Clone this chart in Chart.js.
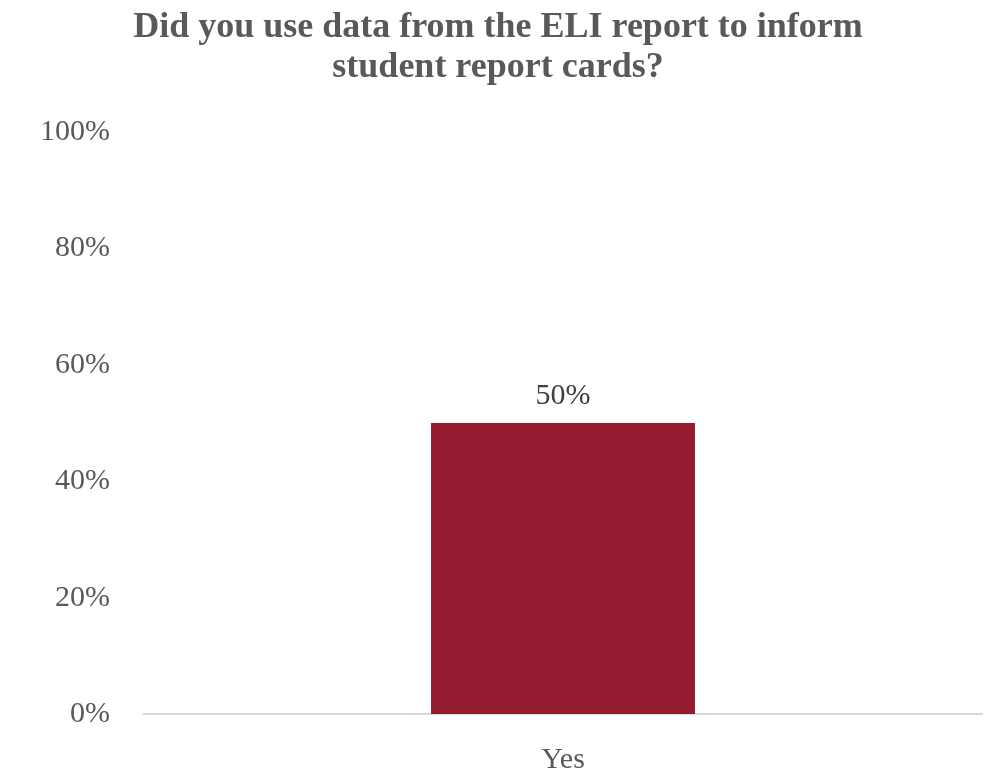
<!DOCTYPE html>
<html>
<head>
<meta charset="utf-8">
<script src="https://cdn.jsdelivr.net/npm/chart.js@4"></script>
<style>
  body { margin: 0; background: #fff; }
  #wrap { width: 987px; height: 773px; position: relative; }
</style>
</head>
<body>
<div id="wrap"><canvas id="chart"></canvas></div>
<script>
var categories = ["Yes"];
var values = [0.5];
var titleLines = ["Did you use data from the ELI report to inform", "student report cards?"];

var greyText = "#595959";
var serif = "'Liberation Serif', 'Times New Roman', serif";

// draw the value above each bar
var barLabels = {
  id: "barLabels",
  afterDatasetsDraw: function (chart) {
    var ctx = chart.ctx;
    var meta = chart.getDatasetMeta(0);
    ctx.save();
    ctx.font = "30px " + serif;
    ctx.fillStyle = "#404040";
    ctx.textAlign = "center";
    ctx.textBaseline = "bottom";
    meta.data.forEach(function (bar, i) {
      ctx.fillText(Math.round(values[i] * 100) + "%", bar.x, bar.y - 12);
    });
    ctx.restore();
  }
};

new Chart(document.getElementById("chart"), {
  type: "bar",
  data: {
    labels: categories,
    datasets: [{
      data: values,
      backgroundColor: "#951b30",
      barPercentage: 0.63,
      categoryPercentage: 0.5
    }]
  },
  options: {
    responsive: true,
    maintainAspectRatio: false,
    animation: false,
    layout: { padding: { left: 14, right: 5, top: 8, bottom: -25 } },
    plugins: {
      legend: { display: false },
      tooltip: { enabled: false },
      title: {
        display: true,
        text: titleLines,
        color: greyText,
        font: { family: serif, size: 36, weight: "bold", lineHeight: 1.1 },
        padding: { top: 0, bottom: 45 }
      }
    },
    scales: {
      y: {
        min: 0,
        max: 1,
        ticks: {
          stepSize: 0.2,
          color: greyText,
          padding: 26,
          font: { family: serif, size: 30 },
          callback: function (v) { return Math.round(v * 100) + "%"; }
        },
        grid: { display: false },
        border: { display: false }
      },
      x: {
        ticks: {
          color: greyText,
          padding: 20,
          font: { family: serif, size: 30 }
        },
        grid: { display: false },
        border: { color: "#d9d9d9", width: 2 }
      }
    }
  },
  plugins: [barLabels]
});
</script>
</body>
</html>
